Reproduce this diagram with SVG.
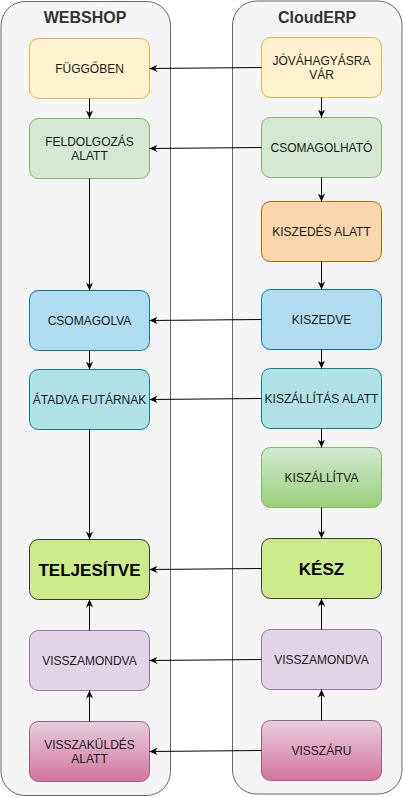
<svg xmlns="http://www.w3.org/2000/svg" width="403" height="798" viewBox="0 0 403 798">
<style>
.cont{fill:#f5f5f5;stroke:#666666;stroke-width:1}
.title{font-family:"Liberation Sans",Arial,sans-serif;font-size:16px;font-weight:bold;fill:#333333;text-anchor:middle}
.lbl{font-family:"Liberation Sans",Arial,sans-serif;font-size:12px;fill:#1a1a1a;text-anchor:middle}
.big{font-family:"Liberation Sans",Arial,sans-serif;font-size:17px;font-weight:bold;fill:#000;text-anchor:middle}
.yel{fill:#fff2cc;stroke:#d6b656}
.grn{fill:#d5e8d4;stroke:#82b366}
.org{fill:#fad7ac;stroke:#b46504}
.blu{fill:#b1ddf0;stroke:#10739e}
.tea{fill:#b0e3e6;stroke:#0e8088}
.ggr{fill:url(#gg);stroke:#82b366}
.lim{fill:#cdeb8b;stroke:#36393d}
.pur{fill:#e1d5e7;stroke:#9673a6}
.pnk{fill:url(#pg);stroke:#996185}
.edge{fill:none;stroke:#000;stroke-width:1;marker-end:url(#arr)}
</style>
<defs>
<linearGradient id="gg" x1="0" y1="0" x2="0" y2="1"><stop offset="0" stop-color="#d5e8d4"/><stop offset="1" stop-color="#97d077"/></linearGradient>
<linearGradient id="pg" x1="0" y1="0" x2="0" y2="1"><stop offset="0" stop-color="#e6d0de"/><stop offset="1" stop-color="#d5739d"/></linearGradient>
<marker id="arr" viewBox="0 0 10 10" refX="10" refY="5" markerWidth="8" markerHeight="8" markerUnits="userSpaceOnUse" orient="auto"><path d="M0,0.5 L10,5 L0,9.5 L3,5 z" fill="#000"/></marker>
</defs>
<g id="webshop"><rect class="cont" x="1" y="1.5" width="169.5" height="794" rx="24"/><text class="title" x="85" y="23">WEBSHOP</text></g>
<g id="clouderp"><rect class="cont" x="232.5" y="1" width="169.5" height="793" rx="24"/><text class="title" x="317" y="22.5">CloudERP</text></g>

<g id="fuggoben"><rect class="yel" x="29.5" y="38.5" width="120" height="60" rx="9"/><text class="lbl" x="89.5" y="72.5">FÜGGŐBEN</text></g>
<g id="feldolgozas"><rect class="grn" x="29.5" y="118.5" width="120" height="60" rx="9"/><text class="lbl" x="89.5" y="146">FELDOLGOZÁS</text><text class="lbl" x="89.5" y="160">ALATT</text></g>
<g id="csomagolva"><rect class="blu" x="29.5" y="290.5" width="120" height="60" rx="9"/><text class="lbl" x="89.5" y="324.5">CSOMAGOLVA</text></g>
<g id="atadva"><rect class="tea" x="29.5" y="369.5" width="120" height="60" rx="9"/><text class="lbl" x="89.5" y="403.5">ÁTADVA FUTÁRNAK</text></g>
<g id="teljesitve"><rect class="lim" x="29.5" y="539.5" width="120" height="60" rx="9"/><text class="big" x="89.5" y="575.5">TELJESÍTVE</text></g>
<g id="visszamondva-w"><rect class="pur" x="29.5" y="630.5" width="120" height="60" rx="9"/><text class="lbl" x="89.5" y="665">VISSZAMONDVA</text></g>
<g id="visszakuldes"><rect class="pnk" x="29.5" y="721.5" width="120" height="60" rx="9"/><text class="lbl" x="89.5" y="749">VISSZAKÜLDÉS</text><text class="lbl" x="89.5" y="763">ALATT</text></g>

<g id="jovahagyasra"><rect class="yel" x="261.5" y="37.5" width="120" height="60" rx="9"/><text class="lbl" x="321.5" y="65">JÓVÁHAGYÁSRA</text><text class="lbl" x="321.5" y="79">VÁR</text></g>
<g id="csomagolhato"><rect class="grn" x="261.5" y="117.5" width="120" height="60" rx="9"/><text class="lbl" x="321.5" y="151.5">CSOMAGOLHATÓ</text></g>
<g id="kiszedes"><rect class="org" x="261.5" y="201.5" width="120" height="60" rx="9"/><text class="lbl" x="321.5" y="235.5">KISZEDÉS ALATT</text></g>
<g id="kiszedve"><rect class="blu" x="261.5" y="289.5" width="120" height="60" rx="9"/><text class="lbl" x="321.5" y="323.5">KISZEDVE</text></g>
<g id="kiszallitas"><rect class="tea" x="261.5" y="368.5" width="120" height="60" rx="9"/><text class="lbl" x="321.5" y="402.5">KISZÁLLÍTÁS ALATT</text></g>
<g id="kiszallitva"><rect class="ggr" x="261.5" y="447.5" width="120" height="60" rx="9"/><text class="lbl" x="321.5" y="481.5">KISZÁLLÍTVA</text></g>
<g id="kesz"><rect class="lim" x="261.5" y="538.5" width="120" height="60" rx="9"/><text class="big" x="321.5" y="574.5">KÉSZ</text></g>
<g id="visszamondva-c"><rect class="pur" x="261.5" y="629.5" width="120" height="60" rx="9"/><text class="lbl" x="321.5" y="664">VISSZAMONDVA</text></g>
<g id="visszaru"><rect class="pnk" x="261.5" y="720.5" width="120" height="60" rx="9"/><text class="lbl" x="321.5" y="755">VISSZÁRU</text></g>

<g id="connectors">
<path class="edge" d="M89.5 98.5 V118.5"/>
<path class="edge" d="M89.5 178.5 V290.5"/>
<path class="edge" d="M89.5 350.5 V369.5"/>
<path class="edge" d="M89.5 429.5 V539.5"/>
<path class="edge" d="M89.5 630.5 V599.5"/>
<path class="edge" d="M89.5 721.5 V690.5"/>
<path class="edge" d="M321.5 97.5 V117.5"/>
<path class="edge" d="M321.5 177.5 V201.5"/>
<path class="edge" d="M321.5 261.5 V289.5"/>
<path class="edge" d="M321.5 349.5 V368.5"/>
<path class="edge" d="M321.5 428.5 V447.5"/>
<path class="edge" d="M321.5 507.5 V538.5"/>
<path class="edge" d="M321.5 629.5 V598.5"/>
<path class="edge" d="M321.5 720.5 V689.5"/>
<path class="edge" d="M261.5 67.5 L149.5 68.5"/>
<path class="edge" d="M261.5 147.5 L149.5 148.5"/>
<path class="edge" d="M261.5 319.5 L149.5 320.5"/>
<path class="edge" d="M261.5 398.5 L149.5 399.5"/>
<path class="edge" d="M261.5 568.5 L149.5 569.5"/>
<path class="edge" d="M261.5 659.5 L149.5 660.5"/>
<path class="edge" d="M261.5 750.5 L149.5 751.5"/>
</g>
</svg>
